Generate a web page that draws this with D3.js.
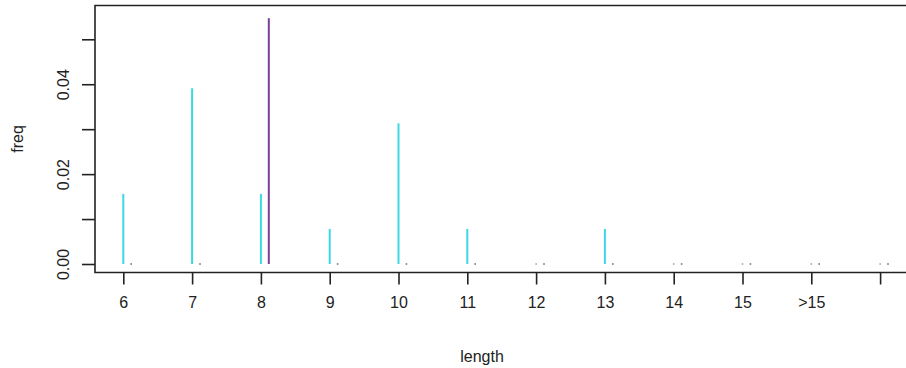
<!DOCTYPE html>
<html><head><meta charset="utf-8">
<script src="https://cdn.jsdelivr.net/npm/d3@7"></script>
<style>html,body{margin:0;padding:0;background:#fff;}svg{display:block;}</style>
</head><body>
<script>
const categories = ["6","7","8","9","10","11","12","13","14","15",">15",""];
const seriesA = [0.0156,0.0391,0.0156,0.0078,0.0313,0.0078,0,0.0078,0,0,0,0];
const seriesB = [0,0,0.0547,0,0,0,0,0,0,0,0,0];
const yTicks = [0,0.01,0.02,0.03,0.04,0.05];
const yLabels = ["0.00","","0.02","","0.04",""];

(function(){
const W=906,H=368;
const svg=d3.select("body").append("svg").attr("width",W).attr("height",H);
const font="Liberation Sans, Arial, sans-serif";
const fs=16;
const x=d3.scaleLinear().domain([0,11]).range([123.3,880.1]);
const y=d3.scaleLinear().domain([0,0.05]).range([264,39.3]);
const bLeft=95, bRight=909, bTop=5.5, bBottom=272.5;
const offset=0.115;

seriesA.forEach((v,i)=>{
  if(v>0){
    svg.append("line").attr("x1",x(i)).attr("x2",x(i)).attr("y1",y(0)).attr("y2",y(v))
      .attr("stroke","#3ad9e3").attr("stroke-width",2);
  } else {
    svg.append("rect").attr("x",x(i)-0.8).attr("y",y(0)-0.8).attr("width",1.6).attr("height",1.6).attr("fill","#aaa");
  }
});
seriesB.forEach((v,i)=>{
  const xi=x(i+offset);
  if(v>0){
    svg.append("line").attr("x1",xi).attr("x2",xi).attr("y1",y(0)).attr("y2",y(v))
      .attr("stroke","#7b3f95").attr("stroke-width",2);
  } else {
    svg.append("rect").attr("x",xi-0.8).attr("y",y(0)-0.8).attr("width",1.6).attr("height",1.6).attr("fill","#777");
  }
});

svg.append("path").attr("d",`M${bRight},${bTop}H${bLeft}V${bBottom}H${bRight}`)
  .attr("fill","none").attr("stroke","#222").attr("stroke-width",1.6);

const ya=svg.append("g").attr("transform",`translate(${bLeft},0)`)
  .call(d3.axisLeft(y).tickValues(yTicks).tickSize(13).tickFormat((d,i)=>yLabels[i]));
ya.select(".domain").remove();
ya.selectAll(".tick line").attr("stroke","#222").attr("stroke-width",1.6);
ya.selectAll(".tick text").attr("font-family",font).attr("font-size",fs).attr("fill","#222")
  .attr("x",null).attr("dy","0.35em").attr("text-anchor","middle")
  .attr("transform","translate(-32,0) rotate(-90)");

const xa=svg.append("g").attr("transform",`translate(0,${bBottom})`)
  .call(d3.axisBottom(x).tickValues(d3.range(categories.length)).tickSize(12).tickFormat(i=>categories[i]));
xa.select(".domain").remove();
xa.selectAll(".tick line").attr("stroke","#222").attr("stroke-width",1.6);
xa.selectAll(".tick text").attr("font-family",font).attr("font-size",fs).attr("fill","#222").attr("y",24);

svg.append("text").attr("x",482).attr("y",356).attr("dy","0.35em").attr("text-anchor","middle")
  .attr("font-family",font).attr("font-size",fs).attr("fill","#222").text("length");
svg.append("text").attr("transform",`translate(17,139) rotate(-90)`).attr("dy","0.35em").attr("text-anchor","middle")
  .attr("font-family",font).attr("font-size",fs).attr("fill","#222").text("freq");
})();
</script>
</body></html>
